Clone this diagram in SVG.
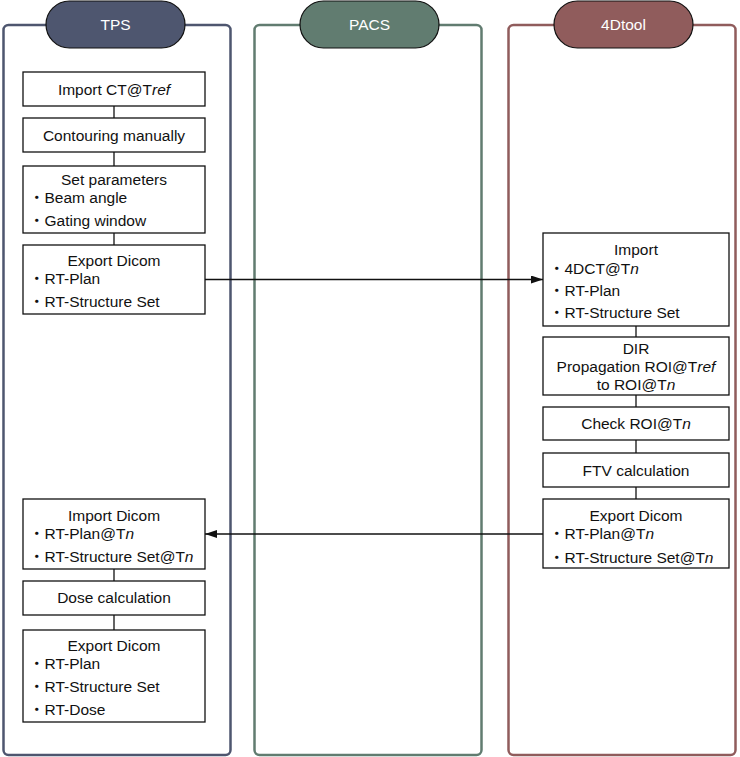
<svg xmlns="http://www.w3.org/2000/svg" width="740" height="757" viewBox="0 0 740 757">
<style>
text{font-family:"Liberation Sans","Noto Sans CJK JP",Arial,sans-serif;font-size:15.5px;fill:#111}
.c{text-anchor:middle}
.hd{font-size:15.5px;fill:#fff;text-anchor:middle}
.box{fill:#fff;stroke:#111;stroke-width:1.3}
.lane{fill:#fff;stroke-width:2.5}
.pill{stroke:#111;stroke-width:1.2}
.i{font-style:italic}
.con{stroke:#111;stroke-width:1.3;fill:none}
</style>
<defs>
<marker id="ah" markerWidth="12" markerHeight="8" refX="12" refY="4" orient="auto" markerUnits="userSpaceOnUse">
<path d="M0,0 L12,4 L0,8 Z" fill="#111"/>
</marker>
</defs>
<g id="lane-tps">
<rect class="lane" x="3.5" y="25" width="227" height="730" rx="5" stroke="#4e566f"/>
<rect class="pill" x="46" y="1" width="139" height="47" rx="23.5" fill="#4e566f"/>
<text class="hd" x="115.5" y="30">TPS</text>
</g>
<g id="lane-pacs">
<rect class="lane" x="254.5" y="25" width="227" height="730" rx="5" stroke="#617c70"/>
<rect class="pill" x="300" y="1" width="139" height="47" rx="23.5" fill="#617c70"/>
<text class="hd" x="369.5" y="30">PACS</text>
</g>
<g id="lane-4dtool">
<rect class="lane" x="508.5" y="25" width="227" height="730" rx="5" stroke="#905c5c"/>
<rect class="pill" x="554" y="1" width="139" height="47" rx="23.5" fill="#905c5c"/>
<text class="hd" x="623.5" y="30">4Dtool</text>
</g>
<g id="connectors">
<line class="con" x1="114" y1="106" x2="114" y2="118"/>
<line class="con" x1="114" y1="152" x2="114" y2="166"/>
<line class="con" x1="114" y1="233" x2="114" y2="245"/>
<line class="con" x1="114" y1="569" x2="114" y2="581"/>
<line class="con" x1="114" y1="615" x2="114" y2="630"/>
<line class="con" x1="636" y1="326" x2="636" y2="337"/>
<line class="con" x1="636" y1="395" x2="636" y2="407"/>
<line class="con" x1="636" y1="440" x2="636" y2="453"/>
<line class="con" x1="636" y1="487" x2="636" y2="499"/>
<line class="con" x1="205" y1="279.5" x2="543" y2="279.5" marker-end="url(#ah)"/>
<line class="con" x1="543" y1="534" x2="205" y2="534" marker-end="url(#ah)"/>
</g>
<g id="import-ct">
<rect class="box" x="23" y="72" width="182" height="34"/>
<text class="c" x="114" y="94.5">Import CT@T<tspan class="i">ref</tspan></text>
</g>
<g id="contouring">
<rect class="box" x="23" y="118" width="182" height="34"/>
<text class="c" x="114" y="140.5">Contouring manually</text>
</g>
<g id="set-parameters">
<rect class="box" x="23" y="166" width="182" height="67"/>
<text class="c" x="114" y="185">Set parameters</text>
<text x="29" y="203">・Beam angle</text>
<text x="29" y="225.5">・Gating window</text>
</g>
<g id="export-dicom-1">
<rect class="box" x="23" y="245" width="182" height="69"/>
<text class="c" x="114" y="265.5">Export Dicom</text>
<text x="29" y="283.5">・RT-Plan</text>
<text x="29" y="307">・RT-Structure Set</text>
</g>
<g id="import-dicom">
<rect class="box" x="23" y="499" width="182" height="70"/>
<text class="c" x="114" y="520.5">Import Dicom</text>
<text x="29" y="538.5">・RT-Plan@T<tspan class="i">n</tspan></text>
<text x="29" y="561.5">・RT-Structure Set@T<tspan class="i">n</tspan></text>
</g>
<g id="dose-calculation">
<rect class="box" x="23" y="581" width="182" height="34"/>
<text class="c" x="114" y="603">Dose calculation</text>
</g>
<g id="export-dicom-2">
<rect class="box" x="23" y="630" width="182" height="92"/>
<text class="c" x="114" y="650.5">Export Dicom</text>
<text x="29" y="668.5">・RT-Plan</text>
<text x="29" y="691.5">・RT-Structure Set</text>
<text x="29" y="714.5">・RT-Dose</text>
</g>
<g id="import-4d">
<rect class="box" x="543" y="233" width="186" height="93"/>
<text class="c" x="636" y="254.5">Import</text>
<text x="549" y="273.5">・4DCT@T<tspan class="i">n</tspan></text>
<text x="549" y="295.5">・RT-Plan</text>
<text x="549" y="317.5">・RT-Structure Set</text>
</g>
<g id="dir">
<rect class="box" x="543" y="337" width="186" height="58"/>
<text class="c" x="636" y="353.5">DIR</text>
<text class="c" x="636" y="371.5">Propagation ROI@T<tspan class="i">ref</tspan></text>
<text class="c" x="636" y="389.5">to ROI@T<tspan class="i">n</tspan></text>
</g>
<g id="check-roi">
<rect class="box" x="543" y="407" width="186" height="33"/>
<text class="c" x="636" y="429">Check ROI@T<tspan class="i">n</tspan></text>
</g>
<g id="ftv">
<rect class="box" x="543" y="453" width="186" height="34"/>
<text class="c" x="636" y="475.5">FTV calculation</text>
</g>
<g id="export-4d">
<rect class="box" x="543" y="499" width="186" height="69"/>
<text class="c" x="636" y="520.5">Export Dicom</text>
<text x="549" y="538.5">・RT-Plan@T<tspan class="i">n</tspan></text>
<text x="549" y="562.5">・RT-Structure Set@T<tspan class="i">n</tspan></text>
</g>
</svg>
